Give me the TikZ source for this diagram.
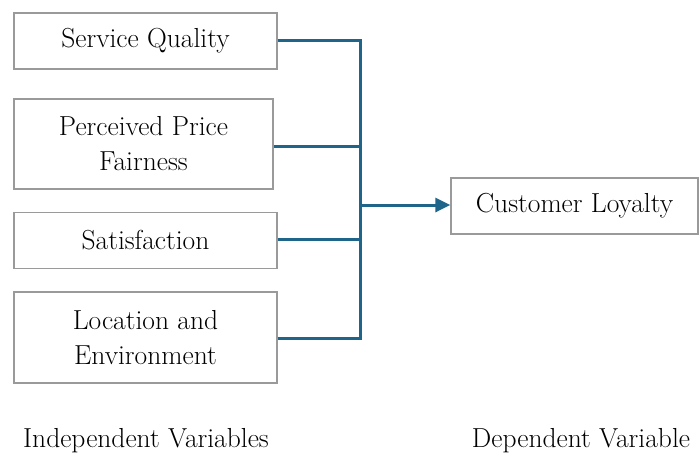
\documentclass[tikz,border=0pt]{standalone}
\usepackage{fontspec}
\usetikzlibrary{arrows.meta}
\definecolor{linkblue}{HTML}{1F6489}
\definecolor{boxgray}{HTML}{9A9A9A}
\begin{document}
\begin{tikzpicture}[x=1pt,y=-1pt,
  varbox/.style={draw=boxgray, line width=1.3pt, align=center, inner sep=0pt,
    font=\fontsize{27.5}{35}\selectfont},
  link/.style={draw=linkblue, line width=3pt},
  caption/.style={font=\fontsize{27.5}{32}\selectfont, inner sep=0pt}]
  \useasboundingbox (0,0) rectangle (700,458);

  % independent variables
  \node[varbox, minimum width=263pt, minimum height=56pt] (sq) at (145.5,41) {Service Quality};
  \node[varbox, minimum width=259pt, minimum height=90pt] (ppf) at (143.5,144) {Perceived Price\\Fairness};
  \node[varbox, minimum width=263pt, minimum height=56pt] (sat) at (145.5,240.5) {Satisfaction};
  \node[varbox, minimum width=263pt, minimum height=91pt] (loc) at (145.5,337.5) {Location and\\Environment};

  % dependent variable
  \node[varbox, minimum width=247pt, minimum height=56pt] (cl) at (574.5,206) {Customer Loyalty};

  % junction points on the collecting bar
  \coordinate (j1) at (360,40);
  \coordinate (j2) at (360,146);
  \coordinate (j3) at (360,239);
  \coordinate (j4) at (360,338);
  \coordinate (jm) at (360,205);

  \draw[link] (sq.east |- j1) -- (j1);
  \draw[link] (ppf.east |- j2) -- (j2);
  \draw[link] (sat.east |- j3) -- (j3);
  \draw[link] (loc.east |- j4) -- (j4);
  \draw[link, line cap=rect] (j1) -- (j4);
  \draw[link, -{Triangle[length=15pt,width=14pt]}] (jm) -- (cl.west |- jm);

  % group captions
  \node[caption] (indep) at (146,441) {Independent Variables};
  \node[caption] (dep) at (581,441) {Dependent Variable};
\end{tikzpicture}
\end{document}
